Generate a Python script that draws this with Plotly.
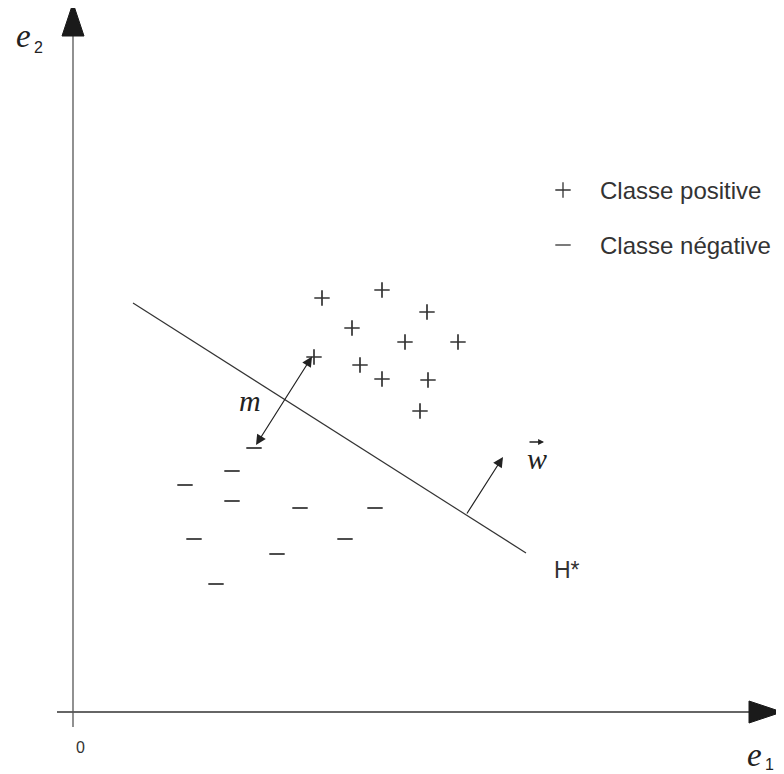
import plotly.graph_objects as go

# positive class points (+)
pos_x = [24.9, 30.9, 35.4, 27.9, 33.2, 38.5, 24.1, 28.7, 30.9, 35.5, 34.7]
pos_y = [41.4, 42.2, 40.0, 38.4, 37.0, 37.0, 35.5, 34.7, 33.3, 33.2, 30.1]

# negative class points (-)
neg_x = [18.1, 15.9, 11.2, 15.9, 22.7, 30.2, 12.1, 27.2, 20.4, 14.3]
neg_y = [26.4, 24.1, 22.7, 21.1, 20.4, 20.4, 17.3, 17.3, 15.8, 12.8]

# separating hyperplane H* (end points)
h_x = [6.0, 45.3]
h_y = [40.9, 15.9]

# margin m: from support vector (+) to support vector (-)
margin_start = (24.0, 35.7)
margin_end = (18.3, 26.7)

# normal vector w
w_base = (39.3, 19.7)
w_tip = (43.0, 25.5)

legend_labels = ["Classe positive", "Classe négative"]
legend_y = [52.2, 46.7]

# axis extents
x_axis_end = 67.6
y_axis_end = 67.6
arrow_len = 3.3
arrow_half = 1.1

INK = "#333333"
SANS = "Liberation Sans, Arial, sans-serif"
SERIF = "Liberation Serif, Times New Roman, serif"

fig = go.Figure()

# hyperplane
fig.add_trace(go.Scatter(x=h_x, y=h_y, mode="lines",
                         line=dict(color=INK, width=1.2), hoverinfo="skip"))

# points
fig.add_trace(go.Scatter(x=pos_x, y=pos_y, mode="markers",
                         marker=dict(symbol="cross-thin", size=11,
                                     line=dict(color=INK, width=1.7))))
fig.add_trace(go.Scatter(x=neg_x, y=neg_y, mode="markers",
                         marker=dict(symbol="line-ew", size=11,
                                     line=dict(color="#444444", width=1.9))))

# legend-like symbols drawn inside the chart
fig.add_trace(go.Scatter(x=[49.0], y=[legend_y[0]], mode="markers",
                         marker=dict(symbol="cross-thin", size=11,
                                     line=dict(color=INK, width=1.3))))
fig.add_trace(go.Scatter(x=[49.0], y=[legend_y[1]], mode="markers",
                         marker=dict(symbol="line-ew", size=11,
                                     line=dict(color=INK, width=1.3))))
for lab, ly in zip(legend_labels, legend_y):
    fig.add_annotation(x=52.5, y=ly, text=lab, showarrow=False, xanchor="left",
                       font=dict(family=SANS, size=24, color=INK))

# axes lines and arrow heads
fig.add_shape(type="line", x0=-1.6, y0=0, x1=x_axis_end, y1=0,
              line=dict(color=INK, width=1.3))
fig.add_shape(type="line", x0=0, y0=-1.5, x1=0, y1=y_axis_end,
              line=dict(color="#555555", width=1.3))
fig.add_shape(type="path",
              path=f"M {x_axis_end},{-arrow_half} L {x_axis_end + arrow_len},0 L {x_axis_end},{arrow_half} Z",
              fillcolor="#1a1a1a", line=dict(color="#1a1a1a", width=1))
fig.add_shape(type="path",
              path=f"M {-arrow_half},{y_axis_end} L 0,{y_axis_end + arrow_len} L {arrow_half},{y_axis_end} Z",
              fillcolor="#1a1a1a", line=dict(color="#1a1a1a", width=1))

# margin arrow (double headed)
fig.add_annotation(x=margin_end[0], y=margin_end[1], ax=margin_start[0], ay=margin_start[1],
                   axref="x", ayref="y", text="", showarrow=True, arrowside="end+start",
                   arrowhead=2, arrowsize=1.7, arrowwidth=1.2, arrowcolor="#222222",
                   standoff=0, startstandoff=0)
# normal vector w
fig.add_annotation(x=w_tip[0], y=w_tip[1], ax=w_base[0], ay=w_base[1],
                   axref="x", ayref="y", text="", showarrow=True,
                   arrowhead=2, arrowsize=1.7, arrowwidth=1.2, arrowcolor="#222222",
                   standoff=0)

# text labels
fig.add_annotation(x=17.7, y=31.2, text="<i>m</i>", showarrow=False,
                   font=dict(family=SERIF, size=30, color="#222222"))
fig.add_annotation(x=46.4, y=25.4, text="<i>w</i>", showarrow=False,
                   font=dict(family=SERIF, size=30, color="#222222"))
fig.add_annotation(x=47.1, y=27.0, ax=45.5, ay=27.0, axref="x", ayref="y", text="",
                   showarrow=True, arrowhead=2, arrowsize=0.9, arrowwidth=1.3,
                   arrowcolor="#222222", standoff=0)
fig.add_annotation(x=49.4, y=14.2, text="H*", showarrow=False,
                   font=dict(family=SANS, size=23, color=INK))
fig.add_annotation(x=0.7, y=-3.5, text="0", showarrow=False,
                   font=dict(family=SANS, size=16, color=INK))
fig.add_annotation(x=-5.0, y=67.6, text="<i>e</i>", showarrow=False,
                   font=dict(family=SERIF, size=33, color="#222222"))
fig.add_annotation(x=-3.5, y=66.5, text="2", showarrow=False,
                   font=dict(family=SANS, size=16, color="#222222"))
fig.add_annotation(x=68.1, y=-4.3, text="<i>e</i>", showarrow=False,
                   font=dict(family=SERIF, size=33, color="#222222"))
fig.add_annotation(x=69.6, y=-5.2, text="1", showarrow=False,
                   font=dict(family=SANS, size=16, color="#222222"))

# page body adds an 8px offset; ranges are shifted to compensate
fig.update_layout(
    width=784, height=774,
    margin=dict(l=0, r=0, t=0, b=0),
    paper_bgcolor="white", plot_bgcolor="white",
    showlegend=False,
    xaxis=dict(range=[-6.5, 71.9], visible=False),
    yaxis=dict(range=[-7.0, 70.4], visible=False),
)

fig.write_html("out.html")
